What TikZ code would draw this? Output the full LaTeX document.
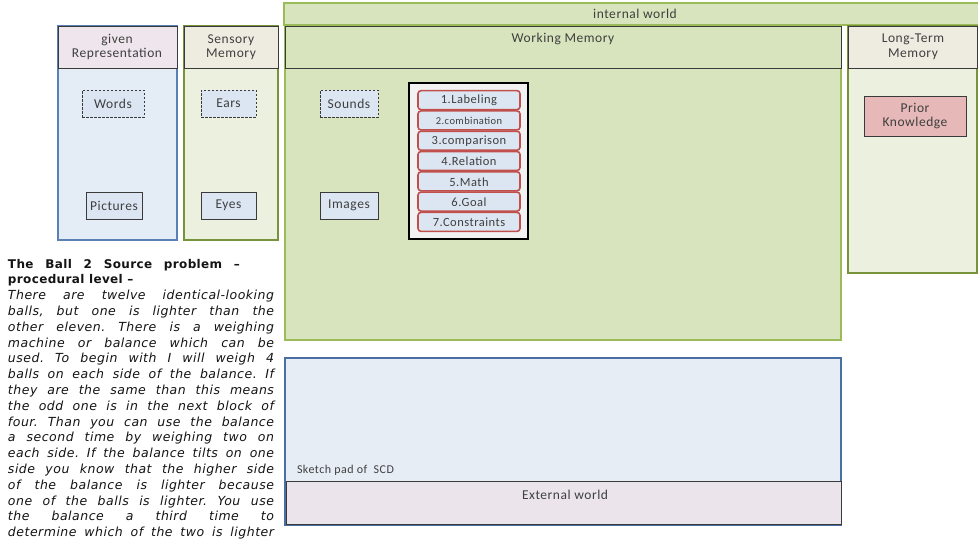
\documentclass[tikz,border=0pt]{standalone}
\usepackage{fontspec}
\setmainfont{Carlito}[LetterSpace=4]
\newfontfamily\parafont{DejaVu Sans}[LetterSpace=4]
\newfontfamily\headfont{DejaVu Sans}[LetterSpace=3]
\definecolor{txt}{HTML}{3F3F3F}
\definecolor{paratxt}{HTML}{141414}
\definecolor{wmgreen}{HTML}{D7E4BD}
\definecolor{ltgreen}{HTML}{EBF1DE}
\definecolor{beige}{HTML}{EEECE1}
\definecolor{pinkgray}{HTML}{EEE6EC}
\definecolor{ltblue}{HTML}{E4ECF6}
\definecolor{itemblue}{HTML}{DCE6F2}
\definecolor{bluebd}{HTML}{5B80B5}
\definecolor{greenbd}{HTML}{77933C}
\definecolor{lgreenbd}{HTML}{9BBB59}
\definecolor{darkbd}{HTML}{3A3A3A}
\definecolor{redbd}{HTML}{C0504D}
\definecolor{pinkfill}{HTML}{E6B9B8}
\definecolor{procfill}{HTML}{F2F2F2}
\definecolor{sketchfill}{HTML}{E7EDF5}
\definecolor{sketchbd}{HTML}{4A6FA5}
\definecolor{extfill}{HTML}{EBE5EB}
\begin{document}
\frenchspacing
\begin{tikzpicture}[x=1pt,y=-1pt,
  every node/.style={inner sep=0pt,outer sep=0pt,text=txt},
  panel/.style={rectangle,anchor=north west,line width=1.2pt},
  header/.style={panel,draw=darkbd,line width=1pt},
  smallbox/.style={rectangle,anchor=north west,draw=darkbd,line width=1pt,fill=itemblue},
  dashbox/.style={smallbox,dashed,dash pattern=on 2.5pt off 1.5pt},
  itembox/.style={rectangle,rounded corners=3pt,draw=redbd,line width=1.6pt,fill=itemblue,minimum width=102pt,minimum height=19pt},
  lbl/.style={font=\fontsize{13.5}{14.5}\selectfont,align=center},
  paraline/.style={anchor=base west,text=paratxt,font=\parafont\itshape\fontsize{12.5}{14}\selectfont},
  headline/.style={anchor=base west,text=paratxt,font=\headfont\bfseries\fontsize{12}{14}\selectfont}]
\useasboundingbox[fill=white] (0,0) rectangle (978,544);

% internal world bar
\node[panel,fill=wmgreen,draw=lgreenbd,minimum width=700pt,minimum height=22pt] (iw) at (284,3) {};
\node[lbl] (iwt) at (635,14) {internal world};

% working memory
\node[panel,fill=wmgreen,draw=lgreenbd,minimum width=556pt,minimum height=314pt] (wm) at (285,26) {};
\node[header,fill=wmgreen,minimum width=556pt,minimum height=42pt] (wmh) at (285,26) {};
\node[lbl] (wmt) at (563,39) {Working Memory};

% long-term memory
\node[panel,fill=ltgreen,draw=greenbd,minimum width=129pt,minimum height=247pt] (ltm) at (848,26) {};
\node[header,fill=beige,minimum width=129pt,minimum height=42pt] (ltmh) at (848,26) {};
\node[lbl] (ltmt) at (913,47) {Long-Term\\Memory};
\node[smallbox,fill=pinkfill,minimum width=102pt,minimum height=40pt] (pk) at (864,96) {};
\node[lbl] (pkt) at (pk.center) {Prior\\Knowledge};

% given representation
\node[panel,fill=ltblue,draw=bluebd,minimum width=119pt,minimum height=214pt] (gr) at (58,26) {};
\node[header,fill=pinkgray,minimum width=119pt,minimum height=42pt] (grh) at (58,26) {};
\node[lbl] (grt) at (117,47) {given\\Representation};

% sensory memory
\node[panel,fill=ltgreen,draw=greenbd,line width=1.8pt,minimum width=94pt,minimum height=214pt] (sm) at (184,26) {};
\node[header,fill=beige,minimum width=94pt,minimum height=42pt] (smh) at (184,26) {};
\node[lbl] (smt) at (231,47) {Sensory\\Memory};

% small boxes
\node[dashbox,minimum width=62pt,minimum height=27pt] (words) at (82,90) {};
\node[lbl] at (words.center) (wordst) {Words};
\node[dashbox,minimum width=55pt,minimum height=27pt] (ears) at (201,90) {};
\node[lbl] at (ears.center) (earst) {Ears};
\node[smallbox,minimum width=56pt,minimum height=27pt] (pictures) at (86,192) {};
\node[lbl] at (pictures.center) (picturest) {Pictures};
\node[smallbox,minimum width=55pt,minimum height=27pt] (eyes) at (201,192) {};
\node[lbl] at (eyes.center) (eyest) {Eyes};
\node[dashbox,minimum width=58pt,minimum height=27pt] (sounds) at (320,90) {};
\node[lbl] at (sounds.center) (soundst) {Sounds};
\node[smallbox,minimum width=58pt,minimum height=27pt] (images) at (320,192) {};
\node[lbl] at (images.center) (imagest) {Images};

% procedure box
\node[rectangle,anchor=north west,draw=black,line width=2.6pt,fill=procfill,minimum width=119pt,minimum height=156pt] (proc) at (409,83) {};
\foreach \t/\f [count=\i] in {1.Labeling/12.5,2.combination/10.5,3.comparison/12.5,4.Relation/12.5,5.Math/12.5,6.Goal/12.5,7.Constraints/12.5}{
  \node[itembox] (item\i) at (469,{90+20.29*(\i-0.5)}) {};
  \node[font=\fontsize{\f}{14}\selectfont] (itemt\i) at ([yshift=-0.5pt]item\i.center) {\t};
}

% sketch pad and external world
\node[panel,fill=sketchfill,draw=sketchbd,minimum width=556pt,minimum height=167pt] (sk) at (285,358) {};
\node[anchor=west,font=\fontsize{12}{14}\selectfont] (skt) at (297,470) {Sketch pad of\ \ SCD};
\node[header,fill=extfill,minimum width=555pt,minimum height=43pt] (ext) at (286,481) {};
\node[lbl] (extt) at (565,495) {External world};

% text block
\node[headline] (h1) at (8,268) {\makebox[232pt][s]{The Ball 2 Source problem –}};
\node[headline] (h2) at (8,283.8) {procedural level –};
\foreach \t [count=\i] in {
  {There are twelve identical-looking},
  {balls, but one is lighter than the},
  {other eleven. There is a weighing},
  {machine or balance which can be},
  {used. To begin with I will weigh 4},
  {balls on each side of the balance. If},
  {they are the same than this means},
  {the odd one is in the next block of},
  {four. Than you can use the balance},
  {a second time by weighing two on},
  {each side. If the balance tilts on one},
  {side you know that the higher side},
  {of the balance is lighter because},
  {one of the balls is lighter. You use},
  {the balance a third time to},
  {determine which of the two is lighter}}{
  \node[paraline] (p\i) at (8,{268+15.8*(\i+1)}) {\makebox[266pt][s]{\t}};
}
\end{tikzpicture}
\end{document}
